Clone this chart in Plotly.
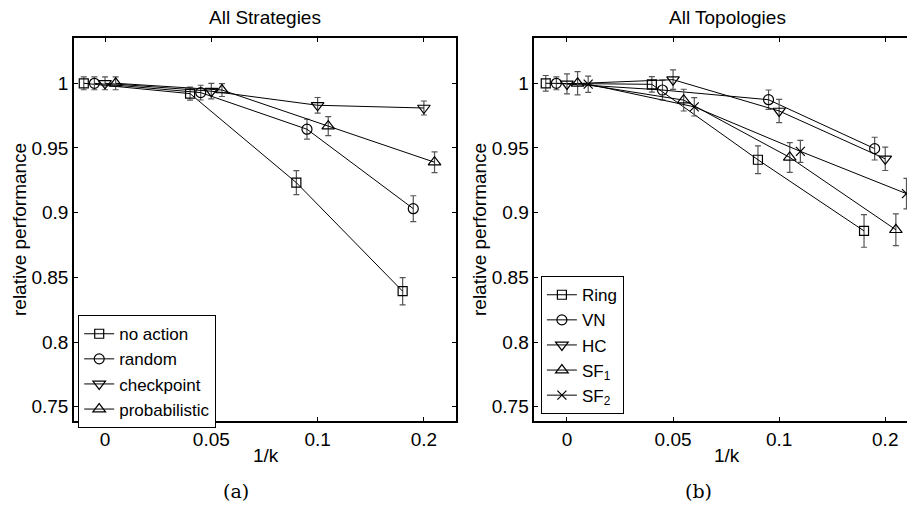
import plotly.graph_objects as go

# ---------------- data ----------------
X_LABELS = ['0', '0.05', '0.1', '0.2']

STRATEGY_NAMES = ['no action', 'random', 'checkpoint', 'probabilistic']
no_action = [1.000, 0.992, 0.9232, 0.8393]
no_action_err = [0.005, 0.005, 0.0093, 0.0105]
random_ = [1.000, 0.9928, 0.9645, 0.9031]
random_err = [0.005, 0.0057, 0.0077, 0.010]
checkpoint = [1.000, 0.9939, 0.983, 0.9809]
checkpoint_err = [0.005, 0.006, 0.006, 0.0054]
probabilistic = [1.000, 0.9948, 0.9669, 0.939]
probabilistic_err = [0.005, 0.005, 0.0073, 0.008]

TOPOLOGY_NAMES = ['Ring', 'VN', 'HC', 'SF<sub>1</sub>', 'SF<sub>2</sub>']
ring = [1.000, 0.9992, 0.9409, 0.8859]
ring_err = [0.006, 0.006, 0.0107, 0.0126]
vn = [1.000, 0.9948, 0.9873, 0.9495]
vn_err = [0.005, 0.0077, 0.0075, 0.0088]
hc = [0.9995, 1.0028, 0.9786, 0.9416]
hc_err = [0.0077, 0.0075, 0.009, 0.009]
sf1 = [1.000, 0.987, 0.9427, 0.8868]
sf1_err = [0.009, 0.0084, 0.0115, 0.0122]
sf2 = [0.9993, 0.9818, 0.9474, 0.9147]
sf2_err = [0.0063, 0.0071, 0.0085, 0.0118]

# ---------------- style ----------------
W, H = 907, 506
FONT = 'Liberation Sans, Arial, sans-serif'
FS = 19
LEG_FS = 17
ERR_COLOR = '#555555'

SYMBOLS_A = ['square-open', 'circle-open', 'triangle-down-open', 'triangle-up-open']
SIZES_A = [9, 10, 11, 11]
DODGE_A = [-0.2, -0.1, 0.0, 0.1]

SYMBOLS_B = ['square-open', 'circle-open', 'triangle-down-open', 'triangle-up-open', 'x-thin-open']
SIZES_B = [9, 10, 11, 11, 9]
DODGE_B = [-0.2, -0.1, 0.0, 0.1, 0.2]

fig = go.Figure()

def add_series(name, vals, errs, sym, size, dodge, xa, ya, legend):
    xs = [i + dodge for i in range(len(vals))]
    fig.add_trace(go.Scatter(
        x=xs, y=vals, name=name, mode='lines+markers',
        xaxis=xa, yaxis=ya, legend=legend,
        line=dict(color='black', width=1),
        marker=dict(symbol=sym, size=size, color='black',
                    line=dict(color='black', width=1.2)),
        error_y=dict(type='data', array=errs, visible=True,
                     color=ERR_COLOR, thickness=1.2, width=3),
    ))

series_a = [(no_action, no_action_err), (random_, random_err),
            (checkpoint, checkpoint_err), (probabilistic, probabilistic_err)]
for k, (v, e) in enumerate(series_a):
    add_series(STRATEGY_NAMES[k], v, e, SYMBOLS_A[k], SIZES_A[k], DODGE_A[k], 'x', 'y', 'legend')

series_b = [(ring, ring_err), (vn, vn_err), (hc, hc_err), (sf1, sf1_err), (sf2, sf2_err)]
for k, (v, e) in enumerate(series_b):
    add_series(TOPOLOGY_NAMES[k], v, e, SYMBOLS_B[k], SIZES_B[k], DODGE_B[k], 'x2', 'y2', 'legend2')

def px_x(p):
    return p / W

def px_y(p):
    return 1 - p / H

axis_common = dict(
    showgrid=False, zeroline=False, showline=True, linecolor='black', linewidth=1.5,
    ticks='inside', ticklen=4, tickcolor='black', tickwidth=1,
    tickfont=dict(family=FONT, size=FS, color='black'),
)
y_ticks = [0.75, 0.8, 0.85, 0.9, 0.95, 1.0]
y_text = ['0.75', '0.8', '0.85', '0.9', '0.95', '1']

legend_common = dict(xanchor='left', yanchor='top',
                     bgcolor='white', bordercolor='black', borderwidth=1.2,
                     font=dict(family=FONT, size=LEG_FS, color='black'),
                     tracegroupgap=0, itemwidth=30)

fig.update_layout(
    width=W, height=H,
    margin=dict(l=0, r=0, t=0, b=0),
    paper_bgcolor='white', plot_bgcolor='white',
    font=dict(family=FONT, size=FS, color='black'),
    showlegend=True,
    xaxis=dict(domain=[px_x(74), px_x(456)], range=[-0.292, 3.302],
               tickvals=[0, 1, 2, 3], ticktext=X_LABELS, mirror='ticks',
               anchor='y', **axis_common),
    yaxis=dict(domain=[px_y(421), px_y(38)], range=[0.739, 1.035],
               tickvals=y_ticks, ticktext=y_text, mirror='ticks',
               anchor='x', **axis_common),
    xaxis2=dict(domain=[px_x(534.3), 1.0], range=[-0.308, 3.205],
                tickvals=[0, 1, 2, 3], ticktext=X_LABELS, mirror='ticks',
                anchor='y2', **axis_common),
    yaxis2=dict(domain=[px_y(421), px_y(38)], range=[0.739, 1.035],
                tickvals=y_ticks, ticktext=y_text, mirror=False,
                anchor='x2', **axis_common),
    legend=dict(x=px_x(78), y=px_y(315), **legend_common),
    legend2=dict(x=px_x(540.7), y=px_y(276), **legend_common),
)

def ann(text, x, y, size=FS, family=FONT, angle=0):
    fig.add_annotation(text=text, x=px_x(x), y=px_y(y), xref='paper', yref='paper',
                       showarrow=False, xanchor='center', yanchor='middle',
                       textangle=angle, font=dict(family=family, size=size, color='black'))

ann('All Strategies', 265, 17)
ann('All Topologies', 727.5, 17)
ann('relative performance', 19, 230, angle=-90)
ann('relative performance', 479, 230, angle=-90)
ann('1/k', 265.5, 455)
ann('1/k', 727, 455)
ann('(a)', 236, 491, size=19, family='DejaVu Serif, Liberation Serif, serif')
ann('(b)', 698, 491, size=19, family='DejaVu Serif, Liberation Serif, serif')

fig.write_html('out.html', config={'displayModeBar': False},
               post_script="document.body.style.margin='0';document.body.style.overflow='hidden';")
